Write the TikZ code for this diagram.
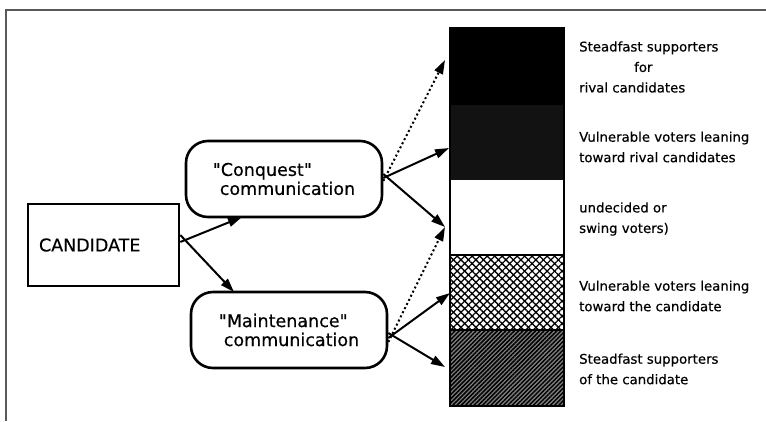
\documentclass[tikz,border=0pt]{standalone}
\usepackage{fontspec}
\setmainfont{DejaVu Sans}[Ligatures=TeXOff, FakeBold=0.4]
\usetikzlibrary{patterns.meta,arrows.meta}
\begin{document}
\begin{tikzpicture}[x=1pt,y=-1pt,
  frameline/.style={draw=black!65, line width=1.3pt},
  candbox/.style={draw, line width=2.6pt, font=\fontsize{17.5}{20}\selectfont,
    minimum width=151pt, minimum height=82pt, text width=129pt, inner xsep=11pt, align=left},
  roundbox/.style={draw, line width=2.6pt, rounded corners=22pt, font=\fontsize{17.5}{20}\selectfont,
    minimum width=196pt, minimum height=76pt, align=left},
  arr/.style={line width=2pt, -{Triangle[length=14pt,width=9pt]}},
  dotarr/.style={arr, dash pattern=on 2pt off 2.6pt},
  barlabel/.style={anchor=west, align=left, inner sep=0pt, font=\fontsize{13.3}{20.5}\selectfont},
  barline/.style={draw, line width=1.5pt}
]
\useasboundingbox (0,0) rectangle (766,421);
\fill[white] (0,0) rectangle (766,421);
\draw[frameline] (766,10) -- (6,10) -- (6,421);

% bar sections
\fill[black] (450,28) rectangle (564,105);
\fill[black!93] (450,105) rectangle (564,180);
\fill[white] (450,180) rectangle (564,255);
\fill[white] (450,255) rectangle (564,330);
\fill[pattern={Lines[angle=45,distance=5.3pt,line width=1.3pt]}] (450,255) rectangle (564,330);
\fill[pattern={Lines[angle=-45,distance=5.3pt,line width=1.3pt]}] (450,255) rectangle (564,330);
\fill[black!50] (450,330) rectangle (564,406);
\fill[pattern={Lines[angle=45,distance=3pt,line width=1.5pt]}] (450,330) rectangle (564,406);
\draw[barline] (450,28) rectangle (564,406);
\draw[barline] (450,255) -- (564,255);
\draw[barline] (450,330) -- (564,330);

% nodes
\node[candbox] (cand) at (103.5,245) {CANDIDATE};
\node[roundbox] (conq) at (284,179) {"Conquest"\\[-1pt]\hspace*{7pt}communication};
\node[roundbox] (maint) at (289,330) {"Maintenance"\\[-1pt]\hspace*{5pt}communication};

% labels
\node[barlabel] (l1) at (579,67) {Steadfast supporters\\\hspace*{55pt}for\\rival candidates};
\node[barlabel] (l2) at (579,147) {Vulnerable voters leaning\\toward rival candidates};
\node[barlabel] (l3) at (579,219) {undecided or\\swing voters)};
\node[barlabel] (l4) at (579,296) {Vulnerable voters leaning\\toward the candidate};
\node[barlabel] (l5) at (579,369) {Steadfast supporters\\of the candidate};

% targets
\coordinate (t1) at (445,60);
\coordinate (t2) at (449,148);
\coordinate (t3) at (445,227);
\coordinate (t4) at (450,293);
\coordinate (t5) at (445,367);
\coordinate (cq) at (242,217);
\coordinate (mt) at (234,292);

% connectors
\draw[arr] ([yshift=3pt]cand.east) -- (cq);
\draw[arr] ([yshift=10pt]cand.east) -- (mt);
\draw[dotarr] ([yshift=-2pt]conq.east) -- (t1);
\draw[arr] ([yshift=1pt]conq.east) -- (t2);
\draw[arr] ([yshift=5pt]conq.east) -- (t3);
\draw[dotarr] ([yshift=-12pt]maint.east) -- (t3);
\draw[arr] ([yshift=-8pt]maint.east) -- (t4);
\draw[arr] ([yshift=-3pt]maint.east) -- (t5);
\end{tikzpicture}
\end{document}
